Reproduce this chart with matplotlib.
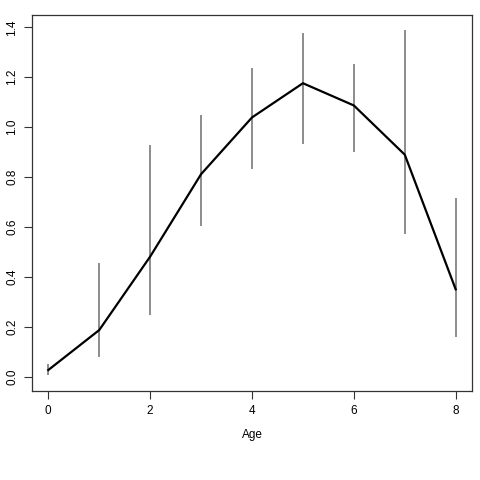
import matplotlib
matplotlib.use("Agg")
import matplotlib.pyplot as plt

age = [0, 1, 2, 3, 4, 5, 6, 7, 8]
mean = [0.028, 0.188, 0.482, 0.812, 1.039, 1.176, 1.087, 0.890, 0.351]
upper = [0.052, 0.457, 0.929, 1.048, 1.236, 1.377, 1.253, 1.390, 0.716]
lower = [0.008, 0.081, 0.248, 0.604, 0.833, 0.932, 0.900, 0.574, 0.159]

plt.rcParams["font.family"] = ["Liberation Sans", "DejaVu Sans"]

fig = plt.figure(figsize=(4.8, 4.8), dpi=100)
ax = fig.add_axes([0.0667, 0.1854, 0.9166, 0.7833])

ax.vlines(age, lower, upper, color="#8c8c8c", linewidth=1.4, zorder=1)
ax.plot(age, mean, color="black", linewidth=1.6, zorder=2)

ax.set_xlim(-0.32, 8.32)
ax.set_ylim(-0.056, 1.449)
ax.set_xticks([0, 2, 4, 6, 8])
ax.set_yticks([0.0, 0.2, 0.4, 0.6, 0.8, 1.0, 1.2, 1.4])
ax.set_yticklabels(["0.0", "0.2", "0.4", "0.6", "0.8", "1.0", "1.2", "1.4"],
                   rotation=90, va="center")
ax.tick_params(labelsize=8.5, length=6, width=0.8, color="#333333", pad=4)
for s in ax.spines.values():
    s.set_color("#333333")
    s.set_linewidth(0.9)
ax.set_xlabel("Age", fontsize=8.5, labelpad=9)

fig.savefig("out.png", dpi=100)
